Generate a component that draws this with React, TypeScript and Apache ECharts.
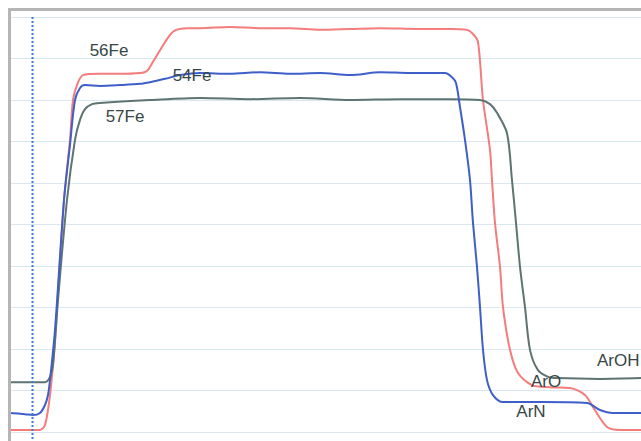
import React, { useEffect, useRef } from "react";
import * as echarts from "echarts";

// time (arbitrary units) vs. intensity (% of full scale)
const fe56: number[][] = [[0,0.5],[31,0.5],[36,1.7],[41,8.9],[46,22.2],[55,55.9],[61,70.4],[64,80.0],[68,83.6],[74,86.0],[91,86.3],[111,86.3],[131,86.5],[138,87.0],[144,89.2],[151,92.0],[161,95.7],[167,96.9],[178,97.3],[191,97.3],[221,97.6],[251,97.3],[281,97.3],[311,96.9],[341,97.1],[371,97.3],[411,97.1],[441,97.1],[458,96.9],[464,95.9],[469,94.0],[474,80.0],[481,68.0],[483,60.7],[486,50.4],[491,39.8],[494,30.1],[501,19.8],[509,14.2],[523,11.3],[541,10.8],[561,10.6],[576,8.9],[584,6.0],[598,1.2],[611,0.5],[632,0.5]];
const fe54: number[][] = [[0,4.6],[16,4.3],[24,4.1],[31,4.6],[36,6.5],[39,8.9],[41,12.5],[46,24.6],[55,55.9],[61,69.2],[66,80.0],[71,82.9],[76,83.6],[91,83.4],[111,83.6],[131,83.9],[141,84.3],[156,85.1],[171,86.0],[191,86.5],[221,86.3],[251,86.7],[281,86.3],[311,86.5],[341,86.0],[371,86.7],[401,86.5],[436,86.5],[443,85.5],[447,84.1],[451,78.3],[456,70.4],[461,60.7],[464,50.4],[468,39.8],[471,30.1],[474,19.8],[478,12.5],[484,8.9],[494,7.2],[531,7.2],[578,7.0],[591,5.3],[604,4.6],[632,4.6]];
const fe57: number[][] = [[0,12.0],[36,12.0],[41,13.3],[44,16.1],[49,31.8],[58,55.9],[66,70.4],[71,75.2],[76,77.8],[83,79.0],[91,79.3],[141,80.0],[191,80.5],[241,80.2],[291,80.5],[341,80.0],[391,80.2],[441,80.2],[471,80.0],[481,79.0],[488,76.9],[498,72.0],[503,60.7],[507,50.4],[511,39.8],[516,30.1],[521,19.8],[529,14.9],[539,13.3],[548,13.0],[591,12.8],[632,13.0]];
const markerTime = 23.5;
const labels = ["56Fe", "54Fe", "57Fe", "ArO", "ArN", "ArOH"];

const FONT = "'Liberation Sans', Arial, sans-serif";
const TXT = "#364646";

export default function App() {
  const ref = useRef<HTMLDivElement>(null);
  useEffect(() => {
    if (!ref.current) return;
    const chart = echarts.init(ref.current, undefined, { renderer: "svg" });
    const line = (name: string, data: number[][], color: string) => ({
      name,
      type: "line",
      data,
      showSymbol: false,
      smooth: 0.3,
      lineStyle: { color, width: 2 },
      itemStyle: { color },
    });
    const txt = (text: string, x: number, y: number, align = "center") => ({
      type: "text",
      x,
      y,
      z: 100,
      style: { text, fill: TXT, font: `17px ${FONT}`, textAlign: align, textVerticalAlign: "middle" },
    });
    chart.setOption({
      animation: false,
      backgroundColor: "#ffffff",
      grid: { left: 9, right: 0, top: 17, bottom: 9 },
      xAxis: { type: "value", min: 0, max: 632, show: false },
      yAxis: {
        type: "value",
        min: 0,
        max: 100,
        interval: 10,
        axisLabel: { show: false },
        axisLine: { show: false },
        axisTick: { show: false },
        splitLine: { lineStyle: { color: "#d9e7f0", width: 1 } },
      },
      series: [
        line("56Fe", fe56, "#f47c7c"),
        line("57Fe", fe57, "#5e7472"),
        line("54Fe", fe54, "#3e5fc8"),
      ],
    });
    const mx = chart.convertToPixel({ xAxisIndex: 0 }, markerTime) as number;
    chart.setOption({
      graphic: [
        { type: "line", shape: { x1: mx, y1: 17, x2: mx, y2: 441 }, style: { stroke: "#3b7dd8", lineWidth: 2, lineDash: [2, 2] }, z: 50 },
        { type: "line", shape: { x1: 8, y1: 9.5, x2: 641, y2: 9.5 }, style: { stroke: "#b5b5b5", lineWidth: 3 }, z: 60 },
        { type: "line", shape: { x1: 9.5, y1: 8, x2: 9.5, y2: 441 }, style: { stroke: "#b5b5b5", lineWidth: 3 }, z: 60 },
        txt(labels[0], 109, 50),
        txt(labels[1], 192, 75),
        txt(labels[2], 125, 116),
        txt(labels[3], 546, 381),
        txt(labels[4], 531, 411),
        txt(labels[5], 597, 360, "left"),
      ],
    });
    return () => chart.dispose();
  }, []);
  return <div ref={ref} style={{ position: "absolute", left: 0, top: 0, width: 641, height: 441 }} />;
}
